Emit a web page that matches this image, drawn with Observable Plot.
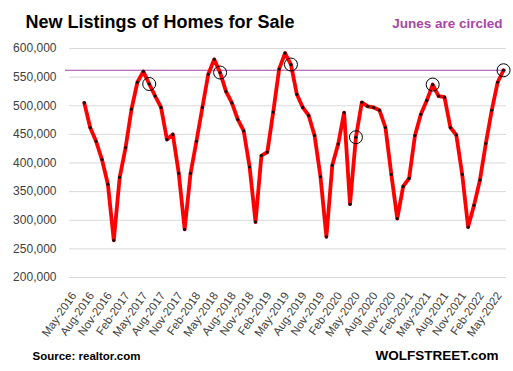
<!DOCTYPE html>
<html>
<head>
<meta charset="utf-8">
<script src="https://cdn.jsdelivr.net/npm/d3@7"></script>
<script src="https://cdn.jsdelivr.net/npm/@observablehq/plot@0.6"></script>
<style>
  html, body { margin: 0; padding: 0; background: #fff; }
</style>
</head>
<body>
<div id="chart"></div>
<script>
// ---- Data ----
const axisStart = "2016-05";   // first category on the axis (May-2016, empty)
const axisEnd = "2022-06";     // last category
const dataStart = "2016-07";   // first month with a value
const newListings = [
  505000, 462000, 438000, 406000, 363000, 265000,
  375000, 427000, 494000, 541000, 560000, 538000, 517000, 497000, 441000, 450000, 382000, 284000,
  382000, 438000, 497000, 555000, 581000, 558000, 525000, 505000, 476000, 456000, 393000, 297000,
  413000, 419000, 489000, 564000, 592000, 572000, 520000, 497000, 483000, 448000, 376000, 271000,
  396000, 433000, 488000, 328000, 445000, 506000, 499000, 497000, 492000, 462000, 380000, 303000,
  359000, 373000, 448000, 485000, 509000, 537000, 517000, 515000, 462000, 449000, 380000, 288000,
  326000, 370000, 434000, 492000, 541000, 562000
];
const circledMonths = ["Jun-2017", "Jun-2018", "Jun-2019", "May-2020", "Jun-2021", "Jun-2022"];
const yTicks = [200000, 250000, 300000, 350000, 400000, 450000, 500000, 550000, 600000];
const referenceLevel = 562000; // purple line: latest June
const titleText = "New Listings of Homes for Sale";
const noteText = "Junes are circled";
const sourceText = "Source: realtor.com";
const brandText = "WOLFSTREET.com";

// ---- Build tables ----
const fmt = d3.utcFormat("%b-%Y");
const parse = d3.utcParse("%Y-%m");
const categories = d3.utcMonth.range(parse(axisStart), d3.utcMonth.offset(parse(axisEnd), 1)).map(fmt);
const firstIdx = categories.indexOf(fmt(parse(dataStart)));
const data = newListings.map((v, i) => ({month: categories[firstIdx + i], value: v}));
const circled = data.filter(d => circledMonths.includes(d.month));
const xTickLabels = categories.filter((d, i) => i % 3 === 0);

const purple = "#a548a8";
const font = "'Liberation Sans', Arial, sans-serif";

const chart = Plot.plot({
  width: 513,
  height: 371,
  marginLeft: 69,
  marginRight: 7,
  marginTop: 48,
  marginBottom: 94,
  style: {fontFamily: font, background: "#fff"},
  x: {type: "point", domain: categories, padding: 0.5},
  y: {domain: [200000, 600000]},
  marks: [
    Plot.gridY(yTicks, {stroke: "#d9d9d9", strokeOpacity: 1, strokeWidth: 1}),
    Plot.ruleY([referenceLevel], {stroke: purple, strokeWidth: 1.2, insetLeft: -4}),
    Plot.line(data, {x: "month", y: "value", stroke: "#ff0000", strokeWidth: 3.8, strokeLinejoin: "round"}),
    Plot.dot(data, {x: "month", y: "value", r: 1.6, fill: "#111", stroke: "none"}),
    Plot.dot(circled, {x: "month", y: "value", r: 6.5, fill: "none", stroke: "#000", strokeWidth: 1}),
    Plot.axisY({ticks: yTicks, tickSize: 0, tickPadding: 13, tickFormat: d3.format(","), fontSize: 12, fill: "#404040", label: null}),
    Plot.axisX({ticks: xTickLabels, tickSize: 0, tickPadding: 16, dx: 1.5, tickRotate: -55, fontSize: 11.5, fill: "#404040", label: null}),
    Plot.text([titleText], {frameAnchor: "top-left", dx: -44, dy: -20.5, lineAnchor: "bottom", textAnchor: "start", fontSize: 18, fontWeight: "bold", fill: "#000"}),
    Plot.text([noteText], {frameAnchor: "top-right", dx: -4, dy: -20.7, lineAnchor: "bottom", textAnchor: "end", fontSize: 13.5, fontWeight: "bold", fill: purple}),
    Plot.text([sourceText], {frameAnchor: "bottom-left", dx: -37, dy: 82, lineAnchor: "bottom", textAnchor: "start", fontSize: 11.5, fontWeight: "bold", fill: "#000"}),
    Plot.text([brandText], {frameAnchor: "bottom-right", dx: -8, dy: 82, lineAnchor: "bottom", textAnchor: "end", fontSize: 13.5, fontWeight: "bold", fill: "#000"})
  ]
});
document.getElementById("chart").appendChild(chart);
</script>
</body>
</html>
